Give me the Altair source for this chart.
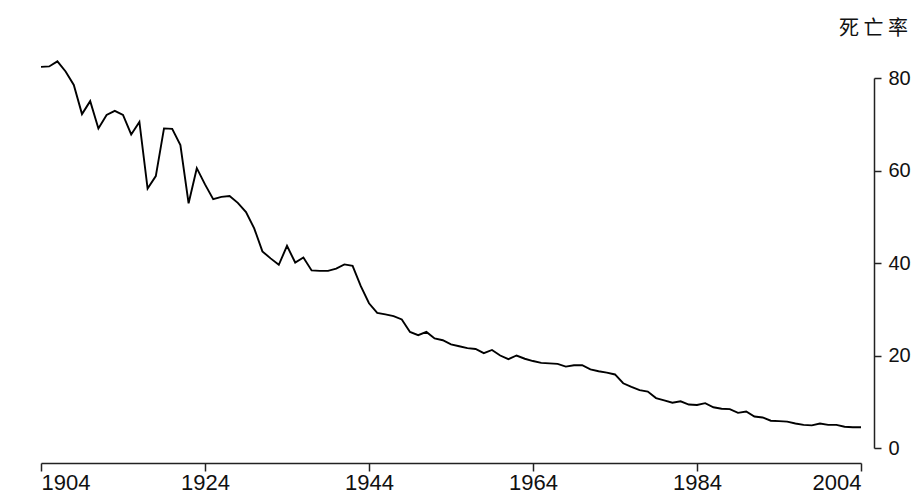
import altair as alt
import pandas as pd

years = list(range(1904, 2005))
rates = [
    82.4, 82.5, 83.6, 81.4, 78.5, 72.2, 75.0, 69.1, 72.0, 72.9,
    72.0, 67.8, 70.5, 56.1, 58.8, 69.1, 69.0, 65.5, 52.9, 60.5,
    57.0, 53.8, 54.3, 54.5, 53.0, 51.0, 47.5, 42.5, 41.0, 39.6,
    43.7, 40.1, 41.2, 38.4, 38.3, 38.3, 38.8, 39.7, 39.4, 35.0,
    31.3, 29.2, 28.9, 28.5, 27.8, 25.1, 24.4, 25.1, 23.7, 23.3,
    22.4, 22.0, 21.6, 21.4, 20.5, 21.2, 20.0, 19.2, 20.0, 19.3,
    18.8, 18.4, 18.3, 18.2, 17.6, 17.9, 17.9, 17.0, 16.6, 16.3,
    15.9, 14.0, 13.2, 12.5, 12.2, 10.8, 10.3, 9.8, 10.1, 9.4,
    9.3, 9.7, 8.8, 8.5, 8.4, 7.6, 7.9, 6.8, 6.6, 5.9,
    5.8, 5.7, 5.3, 5.0, 4.9, 5.3, 5.0, 5.0, 4.6, 4.5,
    4.5,
]
x_ticks = [1904, 1924, 1944, 1964, 1984, 2004]
y_ticks = [0, 20, 40, 60, 80]

df = pd.DataFrame({"year": years, "rate": rates})

chart = (
    alt.Chart(df)
    .mark_line(color="black", strokeWidth=1.9)
    .encode(
        x=alt.X(
            "year:Q",
            scale=alt.Scale(domain=[1904, 2004], nice=False, zero=False),
            axis=alt.Axis(
                values=x_ticks,
                format="d",
                title=None,
                grid=False,
                offset=15,
                tickSize=8,
                labelPadding=1,
                labelFontSize=22,
                labelFont="Liberation Sans",
                labelColor="#111111",
                domainColor="#222222",
                tickColor="#222222",
                domainWidth=1.5,
                tickWidth=1.5,
            ),
        ),
        y=alt.Y(
            "rate:Q",
            scale=alt.Scale(domain=[0, 80], nice=False),
            axis=alt.Axis(
                orient="right",
                values=y_ticks,
                title=None,
                grid=False,
                offset=13,
                tickSize=7,
                labelPadding=7,
                labelFontSize=20,
                labelFont="Liberation Sans",
                labelColor="#111111",
                domainColor="#222222",
                tickColor="#222222",
                domainWidth=1.5,
                tickWidth=1.5,
            ),
        ),
    )
    .properties(
        width=820,
        height=370,
        title=alt.Title(
            "死 亡 率",
            anchor="end",
            frame="group",
            dx=47,
            offset=19,
            fontSize=20,
            fontWeight="normal",
            font="Noto Sans CJK SC",
            color="#111111",
        ),
        autosize=alt.AutoSizeParams(type="none"),
        padding={"left": 33, "top": 70, "right": 50, "bottom": 48},
    )
    .configure_view(stroke=None)
)

chart.save("out.html", embed_options={"renderer": "svg", "actions": False})
